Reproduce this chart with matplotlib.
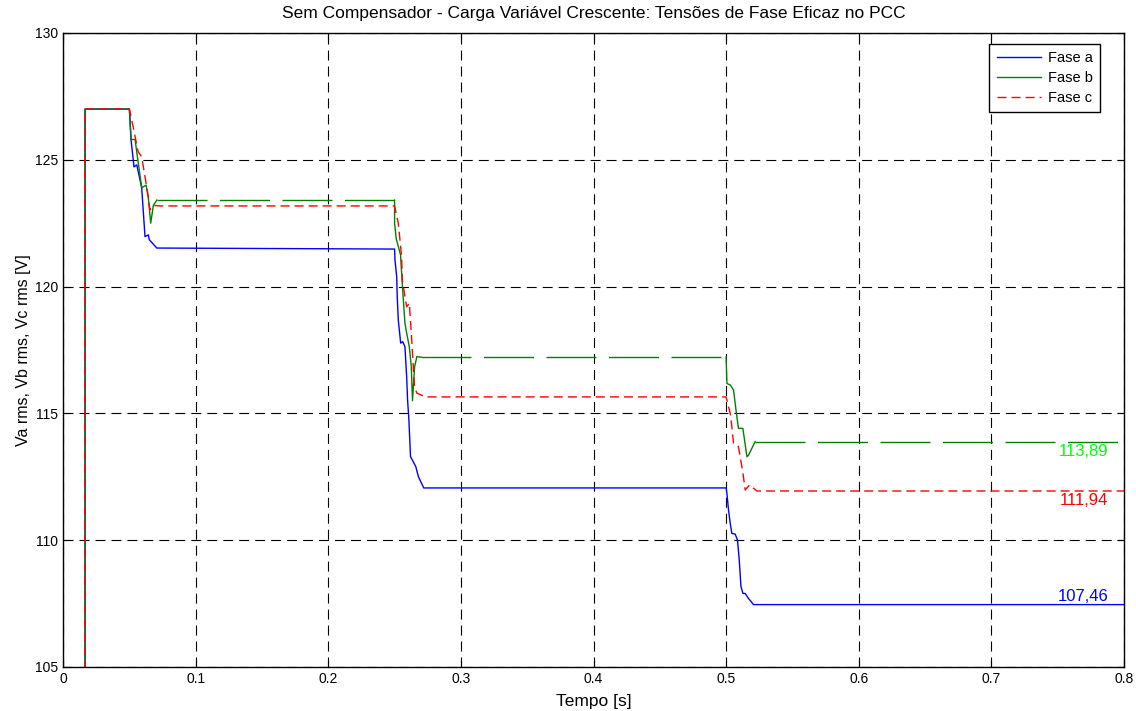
import matplotlib
matplotlib.use("Agg")
import matplotlib.pyplot as plt
from matplotlib.lines import Line2D
import numpy as np

plt.rcParams['font.family'] = ['Liberation Sans', 'DejaVu Sans']
plt.rcParams['lines.scale_dashes'] = False

# Tensões eficazes por fase (tempo em s, tensão em V)
t_a = [0.0, 0.0166, 0.0166, 0.0500, 0.0513, 0.0535, 0.0556, 0.0593, 0.0618,
       0.0643, 0.0650, 0.0707, 0.2500, 0.2503, 0.2516, 0.2520, 0.2528, 0.2546,
       0.2561, 0.2578, 0.2591, 0.2598, 0.2608, 0.2620, 0.2640, 0.2660, 0.2680,
       0.2720, 0.5000, 0.5006, 0.5018, 0.5031, 0.5043, 0.5068, 0.5086, 0.5099,
       0.5112, 0.5127, 0.5144, 0.5169, 0.5207, 0.8000]
v_a = [0.0, 0.0, 127.0, 127.0, 125.78, 124.72, 124.80, 123.90, 121.97,
       122.04, 121.85, 121.52, 121.48, 121.05, 120.39, 119.60, 118.68, 117.77,
       117.83, 117.63, 116.45, 115.53, 114.74, 113.30, 113.10, 112.90, 112.50,
       112.06, 112.06, 111.85, 111.19, 110.67, 110.27, 110.24, 110.00, 109.22,
       108.17, 107.90, 107.90, 107.70, 107.46, 107.46]

t_b = [0.0, 0.0166, 0.0166, 0.0500, 0.0513, 0.0543, 0.0593, 0.0626, 0.0643,
       0.0661, 0.0681, 0.0707, 0.2500, 0.2500, 0.2512, 0.2545, 0.2553, 0.2561,
       0.2578, 0.2591, 0.2611, 0.2626, 0.2635, 0.2651, 0.2668, 0.2688, 0.2700,
       0.5000, 0.5006, 0.5031, 0.5056, 0.5076, 0.5093, 0.5126, 0.5139, 0.5157,
       0.5169, 0.5219, 0.8000]
v_b = [0.0, 0.0, 127.0, 127.0, 125.80, 125.80, 123.90, 124.00, 123.50,
       122.50, 123.20, 123.41, 123.41, 122.50, 121.90, 121.25, 120.54, 119.87,
       118.56, 118.17, 117.63, 116.84, 115.50, 116.84, 117.24, 117.22, 117.22,
       117.22, 116.18, 116.12, 115.92, 115.07, 114.41, 114.41, 113.95, 113.29,
       113.35, 113.89, 113.89]
# trechos em regime da fase b (índices inicial/final)
b_flat = [(11, 12), (26, 27), (37, 38)]

t_c = [0.0, 0.0166, 0.0166, 0.0500, 0.0518, 0.0566, 0.0593, 0.0643, 0.0655,
       0.0681, 0.0734, 0.2500, 0.2528, 0.2553, 0.2558, 0.2591, 0.2611, 0.2628,
       0.2641, 0.2650, 0.2668, 0.2731, 0.5000, 0.5031, 0.5043, 0.5056, 0.5093,
       0.5127, 0.5144, 0.5177, 0.5232, 0.8000]
v_c = [0.0, 0.0, 127.0, 127.0, 126.57, 125.32, 125.12, 123.54, 123.02,
       123.20, 123.18, 123.18, 122.50, 121.18, 120.26, 119.20, 119.35, 118.00,
       116.84, 116.05, 115.80, 115.65, 115.65, 115.00, 114.48, 113.82, 113.69,
       112.64, 111.98, 112.18, 111.94, 111.94]

final_vals = [113.89, 111.94, 107.46]
final_labels = ['113,89', '111,94', '107,46']
final_label_y = [113.48, 111.58, 107.76]
final_colors = ['#00ff00', '#ff0000', '#0000ff']

fig = plt.figure(figsize=(11.36, 7.11), dpi=100)
ax = fig.add_axes([0.0555, 0.0619, 0.9339, 0.8917])

ax.plot(t_a, v_a, color='#0000ff', lw=1.0)

# fase b: transitórios contínuos, regime com traço longo
tb = np.array(t_b)
vb = np.array(v_b, dtype=float)
for i0, i1 in b_flat:
    ax.plot(tb[i0:i1 + 1], vb[i0:i1 + 1], color='#008000', lw=1.0, dashes=(36, 9))
tb_trans = []
vb_trans = []
prev = 0
for i0, i1 in b_flat:
    tb_trans += list(tb[prev:i0 + 1]) + [np.nan]
    vb_trans += list(vb[prev:i0 + 1]) + [np.nan]
    prev = i1
tb_trans += list(tb[prev:])
vb_trans += list(vb[prev:])
ax.plot(tb_trans, vb_trans, color='#008000', lw=1.0)

ax.plot(t_c, v_c, color='#ff0000', lw=1.0, dashes=(6.5, 3.6))

for y, txt, c in zip(final_label_y, final_labels, final_colors):
    ax.text(0.788, y, txt, color=c, fontsize=12, ha='right', va='center')

ax.set_xlim(0, 0.8)
ax.set_ylim(105, 130)
ax.set_xticks(np.arange(0, 0.81, 0.1))
ax.set_xticklabels(['0', '0.1', '0.2', '0.3', '0.4', '0.5', '0.6', '0.7', '0.8'])
ax.set_yticks(np.arange(105, 131, 5))
ax.tick_params(direction='in', top=True, right=True, length=5, labelsize=10)
ax.grid(True, color='black', linestyle=(0, (7.2, 4.3)), lw=0.8)
for s in ax.spines.values():
    s.set_linewidth(1.0)

ax.set_title('Sem Compensador - Carga Variável Crescente: Tensões de Fase Eficaz no PCC',
             fontsize=12.5, pad=11)
ax.set_xlabel('Tempo [s]', fontsize=12.5, labelpad=6)
ax.set_ylabel('Va rms, Vb rms, Vc rms [V]', fontsize=11.5, labelpad=3)

handles = [Line2D([], [], color='#0000ff', lw=1.0),
           Line2D([], [], color='#008000', lw=1.0),
           Line2D([], [], color='#ff0000', lw=1.0, dashes=(6.5, 3.6))]
leg = ax.legend(handles, ['Fase a', 'Fase b', 'Fase c'], loc='upper right',
                bbox_to_anchor=(0.9774, 0.9826), borderaxespad=0,
                fontsize=10.5, fancybox=False, framealpha=1, edgecolor='black',
                handlelength=3.0, handletextpad=0.5, labelspacing=0.4,
                borderpad=0.5)
leg.get_frame().set_linewidth(1.0)

fig.savefig('out.png', dpi=100)
